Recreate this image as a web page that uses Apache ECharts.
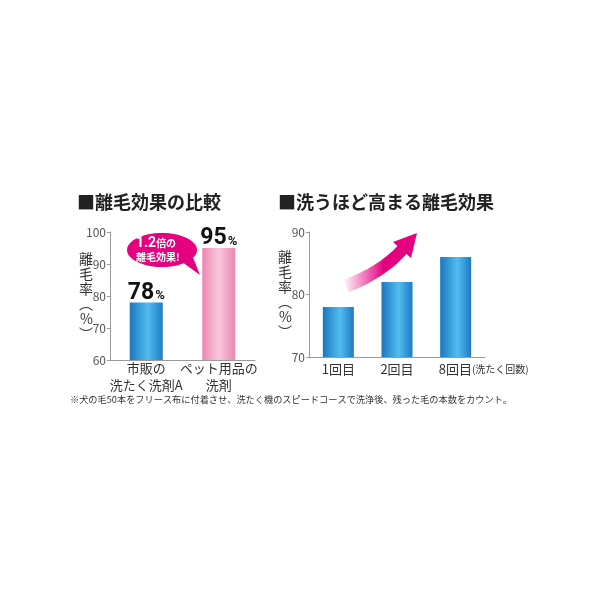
<!DOCTYPE html>
<html>
<head>
<meta charset="utf-8">
<script src="https://cdn.jsdelivr.net/npm/echarts@6/dist/echarts.min.js"></script>
<style>
  html, body { margin: 0; padding: 0; background: #fff; }
  #chart { width: 600px; height: 600px; }
</style>
</head>
<body>
<div id="chart"></div>
<script>
// 離毛効果の比較
var cats1 = ['市販の\n洗たく洗剤A', 'ペット用品の\n洗剤'];
var vals1 = [78, 95];
// 洗うほど高まる離毛効果
var cats2 = ['1回目', '2回目', '8回目'];
var vals2 = [78, 82, 86];

var FONT = '"Noto Sans CJK JP", "Noto Sans", sans-serif';

var blue = new echarts.graphic.LinearGradient(0, 0, 1, 0, [
    {offset: 0, color: '#1b76c0'},
    {offset: 0.55, color: '#52bcef'},
    {offset: 1, color: '#1e7bc4'}
]);
var pink = new echarts.graphic.LinearGradient(0, 0, 1, 0, [
    {offset: 0, color: '#ec86b2'},
    {offset: 0.5, color: '#f8c8dd'},
    {offset: 1, color: '#ec86b2'}
]);

var yName = '離\n毛\n率\n︵\n%\n︶';
var axisGray = '#9a9a9a';

// 矢印の輪郭（二次ベジェを折れ線で近似）
function quad(p0, c, p1, n) {
    var pts = [];
    for (var i = 0; i <= n; i++) {
        var t = i / n, u = 1 - t;
        pts.push([u * u * p0[0] + 2 * u * t * c[0] + t * t * p1[0],
                  u * u * p0[1] + 2 * u * t * c[1] + t * t * p1[1]]);
    }
    return pts;
}
var arrowPts = quad([343, 280], [378, 267], [397.5, 246], 16)
    .concat([[393, 242], [417, 233], [411, 258]])
    .concat(quad([406.5, 254], [385, 278], [349, 292], 16));

function yAxisOf(idx, min, max, padB) {
    return {
        gridIndex: idx, type: 'value', min: min, max: max, interval: 10,
        splitLine: {show: false},
        axisLine: {show: true, lineStyle: {color: axisGray}},
        axisTick: {show: true, length: 3, lineStyle: {color: axisGray}},
        axisLabel: {color: '#555', fontSize: 12, margin: 4, fontFamily: FONT},
        name: yName, nameLocation: 'middle', nameRotate: 0, nameGap: 17,
        nameMoveOverlap: false,
        nameTextStyle: {color: '#333', fontSize: 14, lineHeight: 15, fontFamily: FONT, padding: [0, 0, padB, 0]}
    };
}

var chart = echarts.init(document.getElementById('chart'));
var option = {
    backgroundColor: '#fff',
    textStyle: {fontFamily: FONT},
    title: [
        {
            text: '■離毛効果の比較',
            left: 72, top: 188,
            textStyle: {fontSize: 18, fontWeight: 'bold', color: '#222', fontFamily: FONT}
        },
        {
            text: '■洗うほど高まる離毛効果',
            left: 273, top: 188,
            textStyle: {fontSize: 18, fontWeight: 'bold', color: '#222', fontFamily: FONT}
        }
    ],
    grid: [
        {left: 110, top: 232, width: 145, height: 128},
        {left: 309, top: 232, width: 176, height: 125}
    ],
    xAxis: [
        {
            gridIndex: 0, type: 'category', data: cats1,
            axisLine: {lineStyle: {color: axisGray}},
            axisTick: {show: false},
            axisLabel: {interval: 0, color: '#333', fontSize: 13, lineHeight: 17, margin: 0, fontFamily: FONT}
        },
        {
            gridIndex: 1, type: 'category', data: cats2,
            axisLine: {lineStyle: {color: axisGray}},
            axisTick: {show: false},
            axisLabel: {
                interval: 0, margin: 6,
                formatter: function (v) {
                    if (v === '8回目') return '{pad|}{a|8回目}{b|(洗たく回数)}';
                    return '{a|' + v + '}';
                },
                rich: {
                    pad: {width: 56},
                    a: {color: '#333', fontSize: 13, fontFamily: FONT},
                    b: {color: '#333', fontSize: 10, fontFamily: FONT}
                }
            }
        }
    ],
    yAxis: [yAxisOf(0, 60, 100, 12), yAxisOf(1, 70, 90, 16)],
    series: [
        {
            type: 'bar', xAxisIndex: 0, yAxisIndex: 0,
            barWidth: 33,
            data: vals1.map(function (v, i) {
                return {value: v, itemStyle: {color: i === 0 ? blue : pink}};
            }),
            label: {
                show: true, position: 'top', distance: 0, offset: [0, 2],
                formatter: '{n|{c}}{p|%}',
                rich: {
                    n: {fontSize: 23, fontWeight: 'bold', color: '#111', fontFamily: 'Roboto, sans-serif'},
                    p: {fontSize: 13, fontWeight: 'bold', color: '#111', fontFamily: 'Roboto, sans-serif', padding: [6, 0, 0, 1]}
                }
            }
        },
        {
            type: 'bar', xAxisIndex: 1, yAxisIndex: 1,
            barWidth: 31,
            itemStyle: {color: blue},
            data: vals2
        }
    ],
    graphic: [
        // 吹き出し
        {
            type: 'group', z: 100,
            children: [
                {type: 'polygon', shape: {points: [[178, 259], [190, 250], [200, 275]]}, style: {fill: '#e4007f'}},
                {type: 'ellipse', shape: {cx: 162, cy: 250, rx: 35, ry: 17}, style: {fill: '#e4007f'}},
                {
                    type: 'text', x: 136, y: 236,
                    style: {
                        text: '{a|1.2}{b|倍の}', fill: '#fff',
                        rich: {
                            a: {fontSize: 14, fontWeight: 'bold', fill: '#fff', fontFamily: 'Roboto, sans-serif'},
                            b: {fontSize: 10, fontWeight: 'bold', fill: '#fff', fontFamily: FONT}
                        }
                    }
                },
                {
                    type: 'text', x: 136, y: 252,
                    style: {text: '離毛効果!', fill: '#fff', fontSize: 10, fontWeight: 'bold', fontFamily: FONT}
                }
            ]
        },
        // 矢印
        {
            type: 'polygon', z: 100,
            shape: {points: arrowPts},
            style: {
                fill: new echarts.graphic.LinearGradient(0, 0, 1, 0, [
                    {offset: 0, color: 'rgba(228,0,127,0)'},
                    {offset: 0.55, color: '#e4007f'},
                    {offset: 1, color: '#e4007f'}
                ])
            }
        },
        // 注記
        {
            type: 'text', left: 70, top: 395,
            style: {
                text: '※犬の毛50本をフリース布に付着させ、洗たく機のスピードコースで洗浄後、残った毛の本数をカウント。',
                fill: '#333', fontSize: 9.2, fontFamily: FONT
            }
        }
    ]
};
chart.setOption(option);
</script>
</body>
</html>
